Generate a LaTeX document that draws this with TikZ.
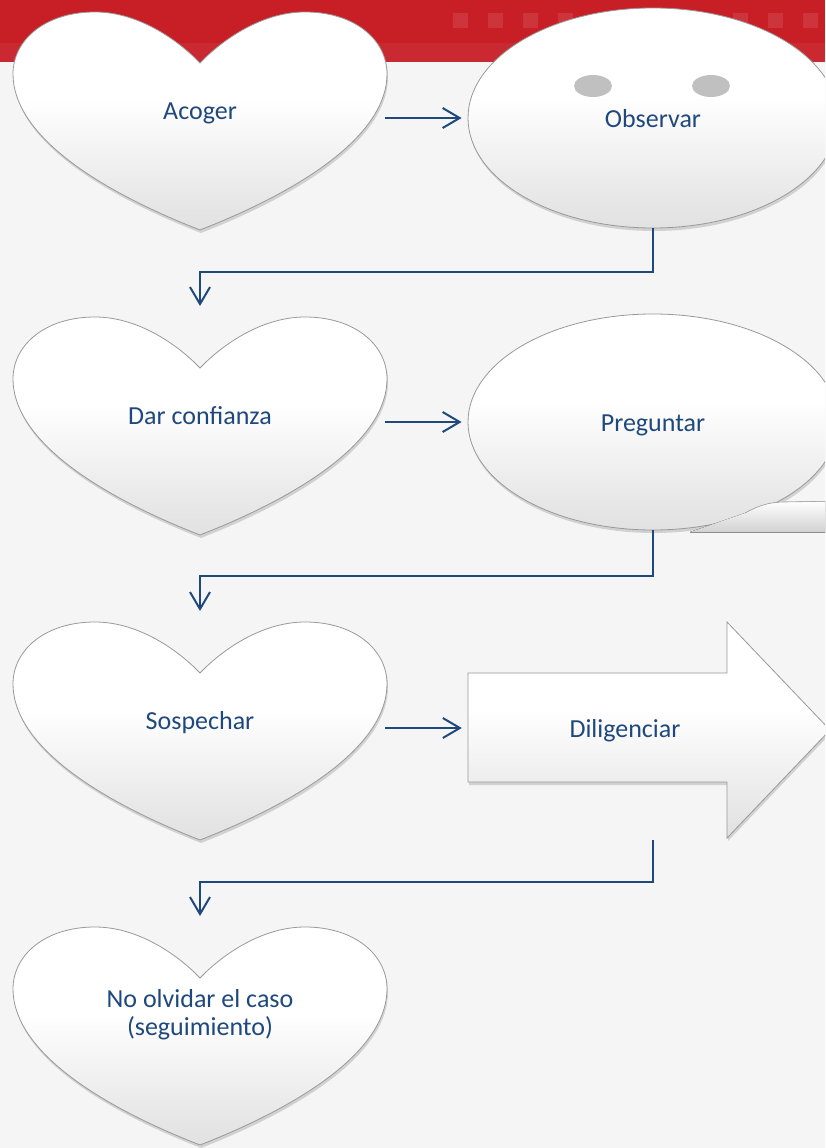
\documentclass[tikz,border=0pt]{standalone}
\usepackage{fontspec}
\setmainfont{Carlito}
\usepackage{tikz}
\usetikzlibrary{arrows.meta,shapes.geometric,shadows}
\definecolor{dark_blue}{HTML}{1F497D}
\definecolor{red_band}{RGB}{200,30,38}
\definecolor{bg_gray}{RGB}{245,245,245}
\definecolor{eye_gray}{RGB}{192,192,192}
\pgfdeclareverticalshading{blanc_gris}{100bp}{color(0bp)=(black!19); color(30bp)=(black!10); color(55bp)=(white); color(100bp)=(white)}

\begin{document}
\begin{tikzpicture}[x=1pt,y=-1pt,>={Straight Barb[length=17pt,width=20pt]},
    lien/.style={->,dark_blue,line width=2pt},
    relief/.style={shading=blanc_gris,draw=black!40,line width=0.8pt,
        drop shadow={shadow xshift=1pt,shadow yshift=-3pt,opacity=0.3}},
    texte/.style={text=dark_blue,font=\fontsize{26}{28}\selectfont,align=center,
        text height=21pt,text depth=2pt},
    coeur/.pic={
        \path[relief] (0,51) .. controls (-20,30) and (-60,0) .. (-105,0)
            .. controls (-155,0) and (-187,28) .. (-187,62)
            .. controls (-187,120) and (-110,175) .. (0,218)
            .. controls (110,175) and (187,120) .. (187,62)
            .. controls (187,28) and (155,0) .. (105,0)
            .. controls (60,0) and (20,30) .. (0,51) -- cycle;
    }]

    \useasboundingbox (0,0) rectangle (825,1148);
    \clip (0,0) rectangle (825,1148);

    % Fond et bandeau rouge
    \fill[bg_gray] (0,0) rectangle (825,1148);
    \fill[red_band] (0,0) rectangle (825,62);
    \fill[white,opacity=0.05] (0,43) rectangle (825,62);
    \foreach \i in {0,...,10}
        \fill[white,opacity=0.1] (453+\i*35,13) rectangle ++(15,15);

    % Définir les coordonnées des coeurs
    \coordinate (coeur1) at (200,12);
    \coordinate (coeur2) at (200,317);
    \coordinate (coeur3) at (200,622);
    \coordinate (coeur4) at (200,927);
    \coordinate (sortie) at (653,840);

    \pic at (coeur1) {coeur};
    \pic at (coeur2) {coeur};
    \pic at (coeur3) {coeur};
    \pic at (coeur4) {coeur};

    \node[texte,minimum width=370pt] (acoger) at (200,110) {Acoger};
    \node[texte,minimum width=370pt] (dar) at (200,415) {Dar confianza};
    \node[texte,minimum width=370pt] (sospechar) at (200,720) {Sospechar};
    \node[texte,minimum width=370pt] (suivi) at (200,1026) {No olvidar el caso\\(seguimiento)};

    % Observar (visage)
    \node[texte,relief,ellipse,minimum width=370pt,minimum height=220pt] (observar) at (653,118) {Observar};
    \fill[eye_gray] (593,86) ellipse [x radius=19pt,y radius=11pt];
    \fill[eye_gray] (711,86) ellipse [x radius=19pt,y radius=11pt];

    % Preguntar (bulle)
    \node[texte,relief,ellipse,minimum width=370pt,minimum height=216pt] (preguntar) at (653,422) {Preguntar};
    \fill[top color=white,bottom color=black!18] (745,513) .. controls (760,505) and (770,502) .. (785,502)
        -- (840,501) -- (840,532) -- (690,532) -- cycle;
    \draw[black!35,line width=0.6pt] (745,513) .. controls (760,505) and (770,502) .. (785,502) -- (840,501);
    \draw[black!45,line width=0.9pt] (690,532) -- (840,532);

    % Diligenciar (flèche)
    \path[relief] (468,673) -- (727,673) -- (727,622) -- (830,730) -- (727,838) -- (727,782) -- (468,782) -- cycle;
    \node[texte,minimum width=314pt] (diligenciar) at (625,728) {Diligenciar};

    % Les liens
    \draw[lien,shorten >=6pt] (acoger.east |- observar.west) -- (observar.west);
    \draw[lien,shorten >=11pt] (observar.south) -- ++(0,44) -| (coeur2);
    \draw[lien,shorten >=6pt] (dar.east |- preguntar.west) -- (preguntar.west);
    \draw[lien,shorten >=11pt] (preguntar.south) -- ++(0,46) -| (coeur3);
    \draw[lien,shorten >=6pt] (sospechar.east |- diligenciar.west) -- (diligenciar.west);
    \draw[lien,shorten >=11pt] (sortie) -- ++(0,42) -| (coeur4);
\end{tikzpicture}
\end{document}
